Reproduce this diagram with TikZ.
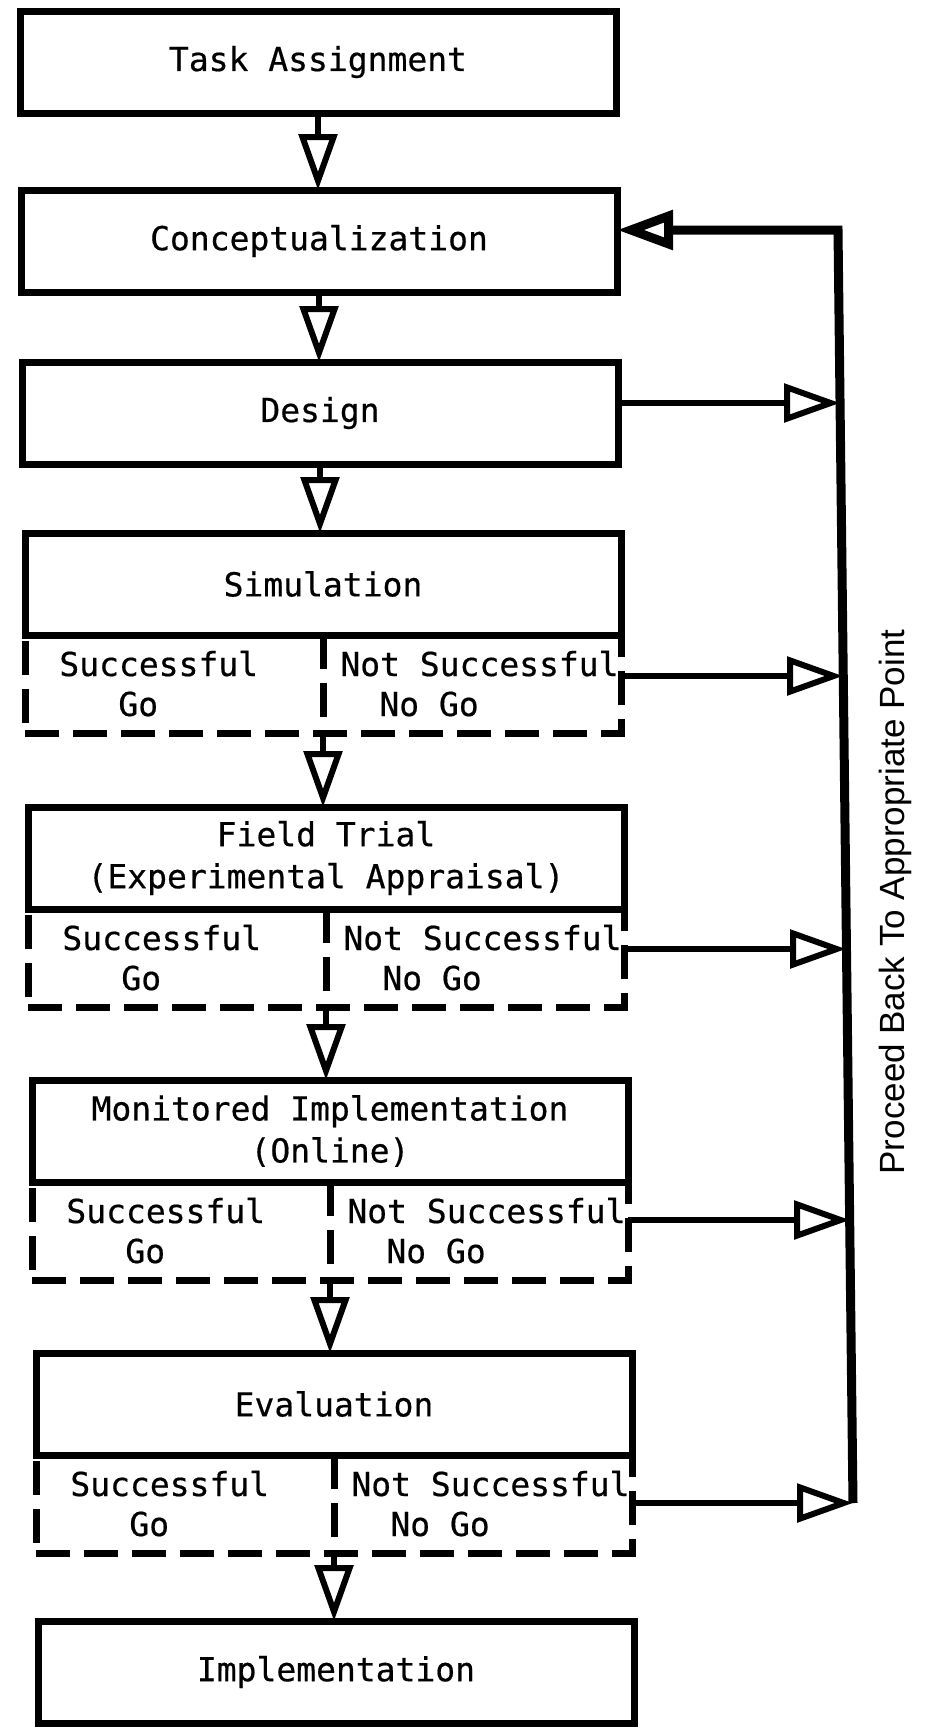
\documentclass[tikz,border=0pt]{standalone}
\usepackage{fontspec}
\newfontfamily\stagefont{DejaVu Sans Mono}[FakeBold=0.5]
\newfontfamily\notefont{Liberation Sans}
\usetikzlibrary{arrows.meta}

\begin{document}
\begin{tikzpicture}[x=0.5pt,y=-0.5pt]
\tikzstyle{stage} = [draw, line width=3.5pt, outer sep=0pt, minimum width=298pt, minimum height=51pt, align=center, font=\stagefont\fontsize{16.5}{21}\selectfont]
\tikzstyle{panel} = [draw, line width=3.5pt, outer sep=0pt, dash pattern=on 17pt off 7pt, minimum width=298pt, minimum height=49pt, anchor=north]
\tikzstyle{dashline} = [line width=3.5pt, dash pattern=on 17pt off 7pt]
\tikzstyle{answer} = [inner sep=0pt, anchor=base west, font=\stagefont\fontsize{16.5}{21}\selectfont]
\tikzstyle{arrow} = [line width=3pt, -{Triangle[open, length=28pt, width=19pt]}]

\useasboundingbox (0,0) rectangle (925,1730);

%Boxes for each stage, top to bottom
\node[stage] (task) at (318,62) {Task Assignment};
\node[stage] (concept) at (319,241) {Conceptualization};
\node[stage] (design) at (320,413) {Design};
\node[stage] (sim) at (323,584) {Simulation};
\node[stage] (field) at (326,858) {Field Trial\\(Experimental Appraisal)};
\node[stage] (mon) at (330,1131) {Monitored Implementation\\(Online)};
\node[stage] (eval) at (334,1404) {Evaluation};
\node[stage] (impl) at (336,1672) {Implementation};

%Dashed go / no go parts under the tested stages
\node[panel] (simp) at (sim.south) {};
\node[panel] (fieldp) at (field.south) {};
\node[panel] (monp) at (mon.south) {};
\node[panel] (evalp) at (eval.south) {};
\draw[dashline] (simp.north) -- (simp.south);
\draw[dashline] (fieldp.north) -- (fieldp.south);
\draw[dashline] (monp.north) -- (monp.south);
\draw[dashline] (evalp.north) -- (evalp.south);

%Outcomes
\node[answer] (simok) at ([shift={(34,41)}]simp.north west) {Successful};
\node[answer] (simgo) at ([shift={(93,81)}]simp.north west) {Go};
\node[answer] (simno) at ([shift={(17,41)}]simp.north) {Not Successful};
\node[answer] (simnogo) at ([shift={(56,81)}]simp.north) {No Go};
\node[answer] (fieldok) at ([shift={(34,41)}]fieldp.north west) {Successful};
\node[answer] (fieldgo) at ([shift={(93,81)}]fieldp.north west) {Go};
\node[answer] (fieldno) at ([shift={(17,41)}]fieldp.north) {Not Successful};
\node[answer] (fieldnogo) at ([shift={(56,81)}]fieldp.north) {No Go};
\node[answer] (monok) at ([shift={(34,41)}]monp.north west) {Successful};
\node[answer] (mongo) at ([shift={(93,81)}]monp.north west) {Go};
\node[answer] (monno) at ([shift={(17,41)}]monp.north) {Not Successful};
\node[answer] (monnogo) at ([shift={(56,81)}]monp.north) {No Go};
\node[answer] (evalok) at ([shift={(34,41)}]evalp.north west) {Successful};
\node[answer] (evalgo) at ([shift={(93,81)}]evalp.north west) {Go};
\node[answer] (evalno) at ([shift={(17,41)}]evalp.north) {Not Successful};
\node[answer] (evalnogo) at ([shift={(56,81)}]evalp.north) {No Go};

%Flow down the stages
\draw[arrow] (task.south) -- (task.south |- concept.north);
\draw[arrow] (concept.south) -- (concept.south |- design.north);
\draw[arrow] (design.south) -- (design.south |- sim.north);
\draw[arrow] (simp.south) -- (simp.south |- field.north);
\draw[arrow] (fieldp.south) -- (fieldp.south |- mon.north);
\draw[arrow] (monp.south) -- (monp.south |- eval.north);
\draw[arrow] (evalp.south) -- (evalp.south |- impl.north);

%Line back up on the right
\coordinate (ltop) at (838,230);
\coordinate (lbot) at (853,1503);
\coordinate (back1) at (840,403);
\coordinate (back2) at (843,676);
\coordinate (back3) at (846,949);
\coordinate (back4) at (850,1220);
\draw[arrow] (design.east |- back1) -- (back1);
\draw[arrow] (simp.east |- back2) -- (back2);
\draw[arrow] (fieldp.east |- back3) -- (back3);
\draw[arrow] (monp.east |- back4) -- (back4);
\draw[arrow] (evalp.east |- lbot) -- (lbot);
\draw[arrow, line width=4.5pt] (lbot) -- (ltop) -- (concept.east |- ltop);

\node[rotate=90, font=\notefont\fontsize{17.5}{20}\selectfont] (proceed) at (895,902) {Proceed Back To Appropriate Point};

\end{tikzpicture}
\end{document}
